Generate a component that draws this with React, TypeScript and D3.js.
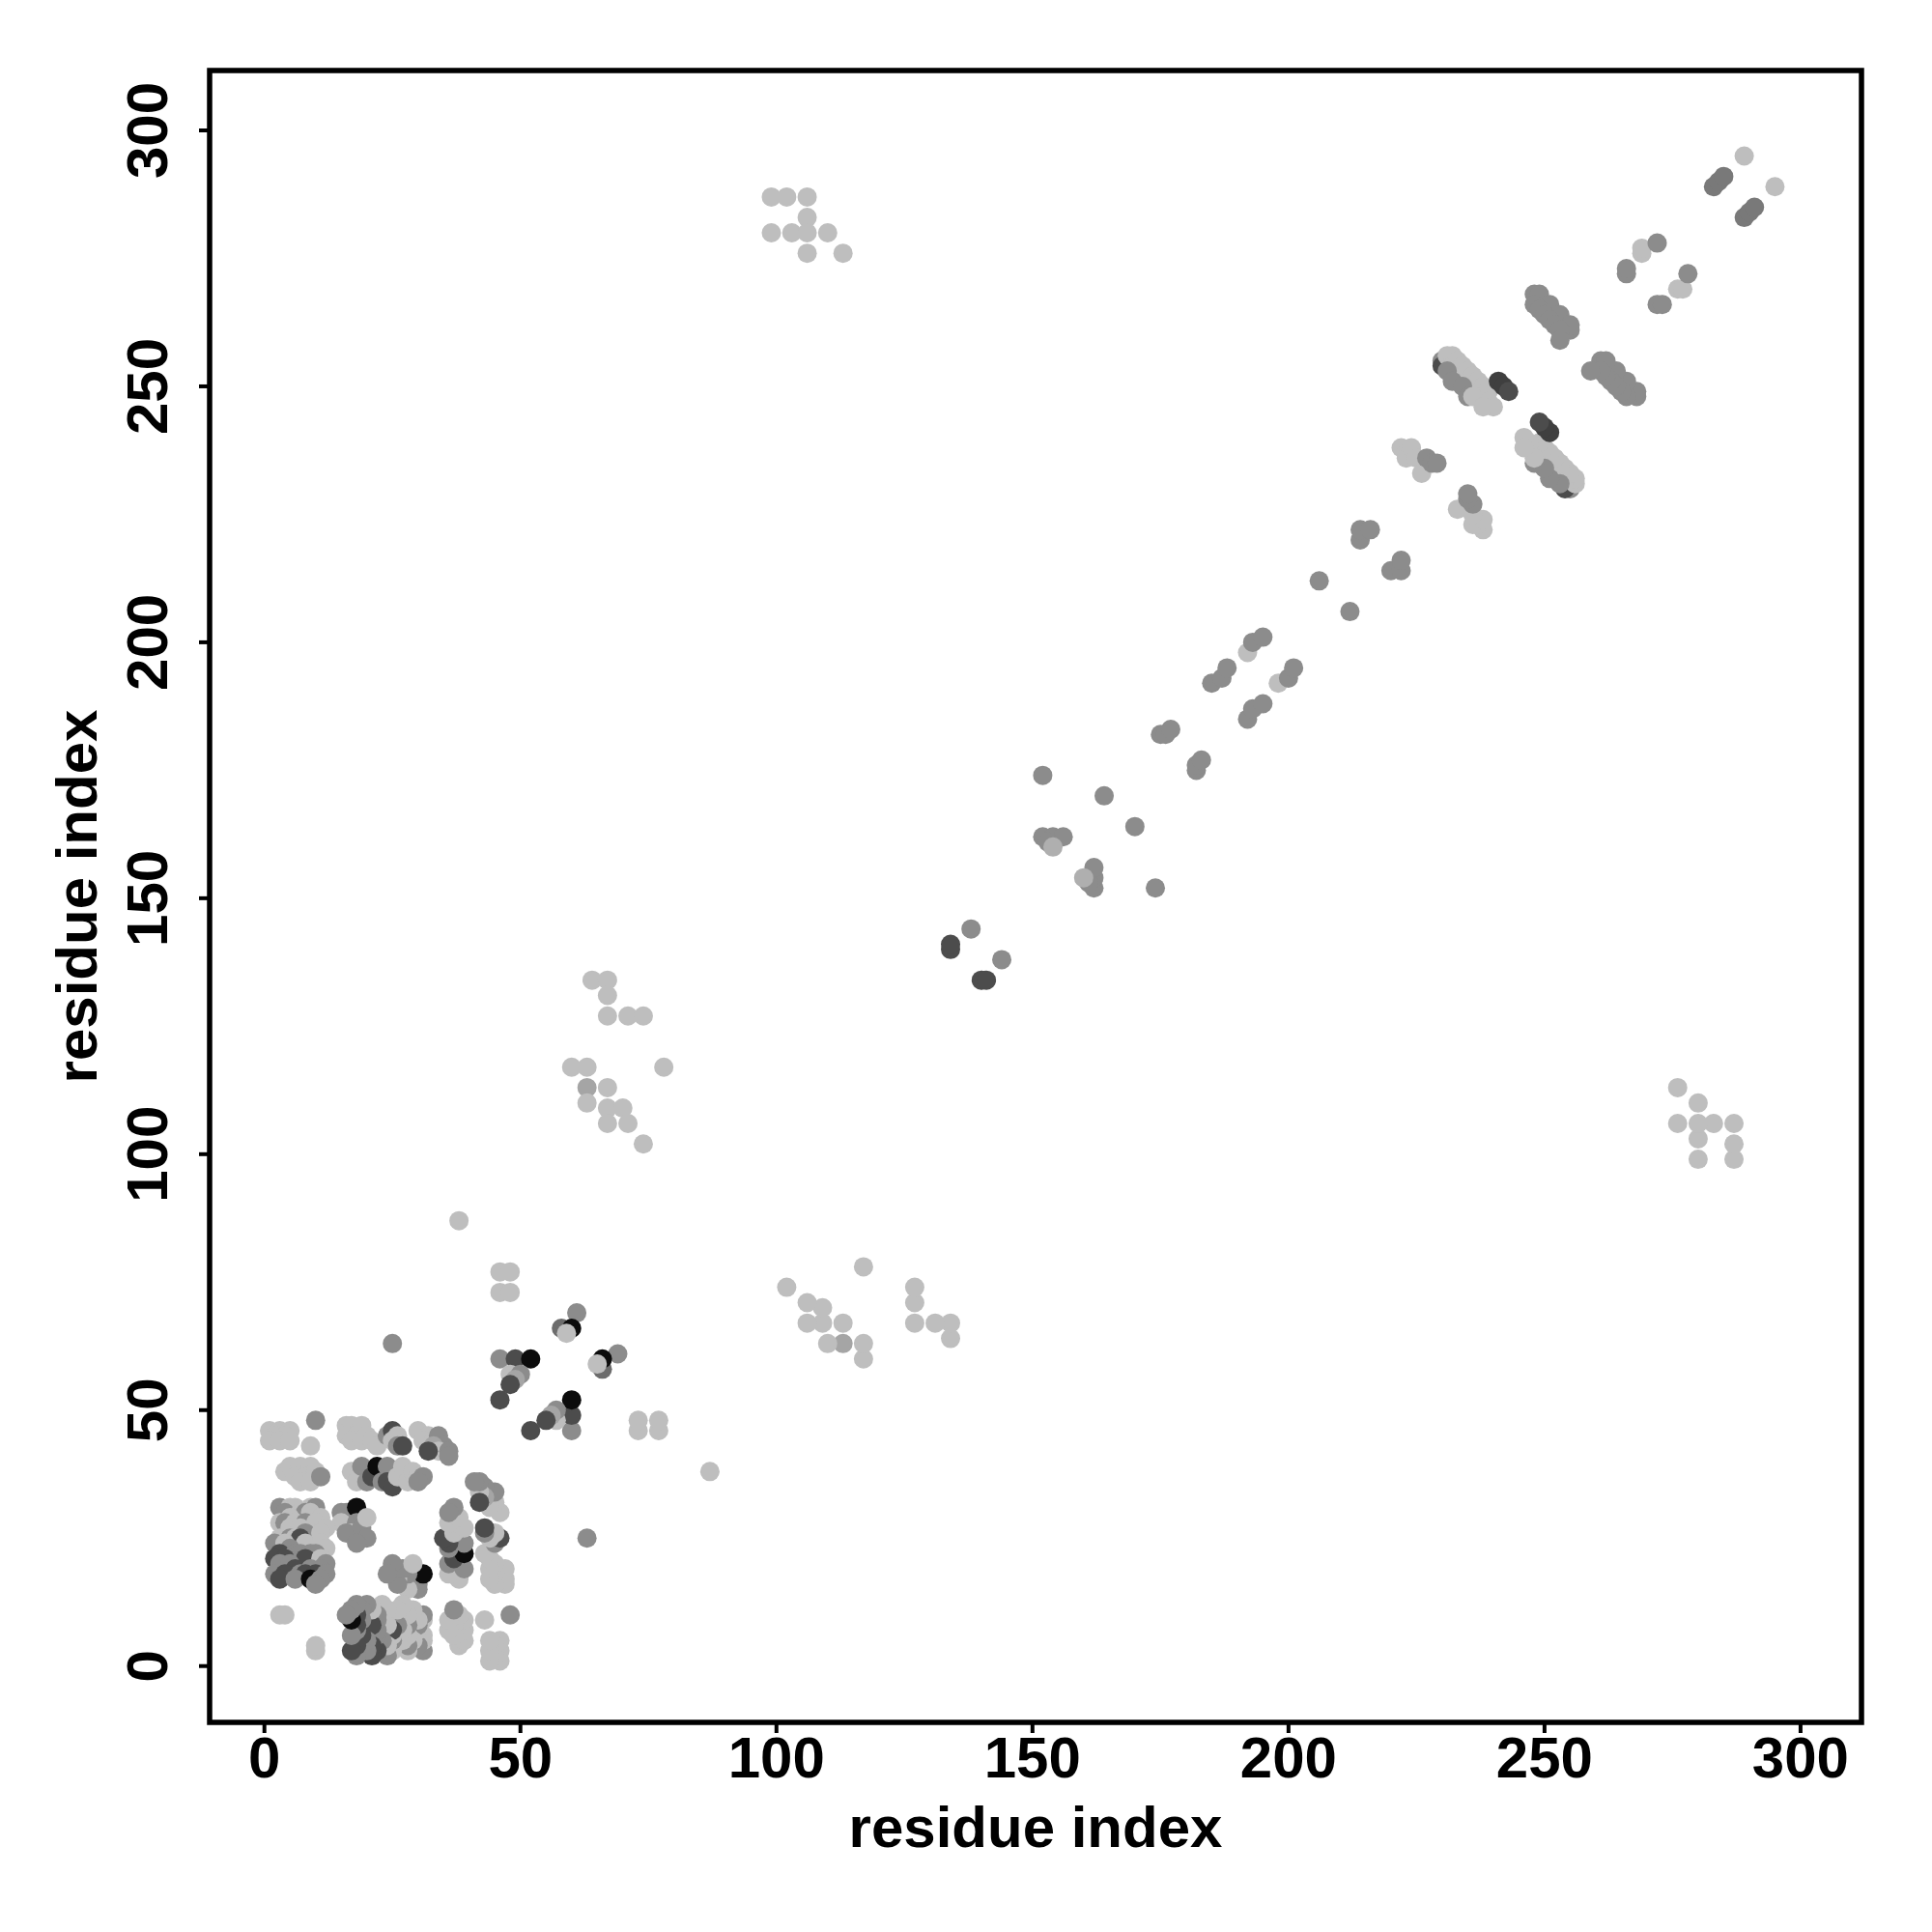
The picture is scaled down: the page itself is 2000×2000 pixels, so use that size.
import { useMemo } from 'react';
import * as d3 from 'd3';

// contact = [residue i, residue j (j > i), shade level 1 light .. 4 black]
type Contact = [number, number, number];

// N-terminal block (residues 1-50)
const nTermBlock: Contact[] = [
  [1, 46, 1], [3, 46, 1], [5, 46, 1], [2, 45, 1], [4, 45, 1], [1, 44, 1], [3, 44, 1], [5, 44, 1], [9, 43, 1],
  [10, 48, 2],
  [16, 47, 1], [17, 47, 1], [19, 47, 1], [16, 45, 1], [18, 45, 1], [20, 45, 1], [17, 44, 1], [19, 44, 1], [21, 44, 1], [22, 43, 1],
  [24, 45, 2], [25, 46, 3], [25, 44, 1], [26, 45, 1], [26, 43, 2], [27, 43, 3],
  [30, 46, 1], [32, 45, 1], [31, 44, 1], [33, 44, 1], [34, 45, 2], [35, 43, 2], [33, 43, 1.5], [34, 42, 1], [36, 42, 2], [36, 41, 2], [32, 42, 3],
  [4, 38, 1], [5, 39, 1], [7, 39, 1], [9, 39, 1], [6, 37, 1], [8, 37, 1], [10, 38, 1], [7, 36, 1], [9, 36, 1], [11, 37, 2],
  [17, 38, 1], [18, 36, 1], [19, 39, 2], [20, 36, 2], [21, 37, 3], [22, 39, 4], [23, 36, 2], [24, 39, 2], [24, 36, 3],
  [25, 35, 3], [26, 37, 1], [27, 39, 1], [28, 36, 1], [29, 38, 1], [30, 37, 1], [31, 37, 2], [30, 36, 2],
  [15, 30, 2], [16, 30, 2], [18, 31, 4], [15, 28, 1], [18, 28, 2], [17, 26, 1], [16, 26, 2], [19, 27, 2], [20, 25, 2], [20, 29, 1], [18, 24, 2],
  [3, 10, 1], [4, 10, 1],
];

// hairpin block (residues 2-12 against 16-31)
const hairpinBlock: Contact[] = [
  [3, 31, 2], [5, 31, 1], [6, 31, 1], [9, 31, 1], [10, 31, 2], [4, 30, 2], [7, 30, 1], [8, 30, 2], [9, 30, 1],
  [5, 29, 1], [11, 29, 1], [3, 28, 1], [4, 28, 2], [6, 28, 1], [8, 28, 2], [10, 28, 1], [5, 27, 1], [7, 27, 1], [12, 27, 1],
  [9, 26, 1], [8, 26, 2], [11, 26, 1], [3, 25, 1], [5, 25, 2], [6, 25, 1], [7, 25, 3], [2, 24, 2], [4, 24, 1], [8, 24, 1], [11, 24, 1],
  [5, 23, 2], [12, 23, 1], [3, 22, 3], [6, 22, 2], [7, 22, 2], [9, 22, 2], [10, 22, 2], [2, 21, 3], [4, 21, 3], [8, 21, 3], [11, 21, 1], [12, 20, 2],
  [3, 20, 2], [5, 20, 2], [6, 19, 3], [9, 19, 2], [11, 19, 2], [2, 18, 2], [4, 18, 3], [7, 18, 2], [8, 18, 3], [10, 18, 3], [12, 18, 2],
  [3, 17, 3], [6, 17, 2], [9, 17, 4], [11, 17, 2], [10, 16, 2],
];

// residues 25-90
const midBlock: Contact[] = [
  [25, 63, 2], [38, 87, 1],
  [46, 77, 1], [48, 77, 1], [46, 73, 1], [48, 73, 1],
  [61, 69, 2], [58, 66, 2.5], [60, 66, 4], [59, 65, 1],
  [46, 60, 2], [49, 60, 3], [52, 60, 4], [48, 57, 1], [50, 57, 2], [49, 56, 1.5], [48, 55, 3], [46, 52, 3],
];

// long range contacts
const longRange: Contact[] = [
  [64, 134, 1], [67, 134, 1], [67, 131, 1], [67, 127, 1], [71, 127, 1], [74, 127, 1],
  [60, 117, 1], [63, 117, 1], [78, 117, 1], [63, 113, 1.5], [67, 113, 1],
  [63, 110, 1], [67, 109, 1], [70, 109, 1], [67, 106, 1], [71, 106, 1], [74, 102, 1],
  [99, 287, 1], [102, 287, 1], [106, 287, 1], [106, 283, 1], [99, 280, 1], [103, 280, 1],
  [106, 280, 1], [110, 280, 1], [106, 276, 1], [113, 276, 1],
];

// near-diagonal contacts (residues 130-230)
const diagonalContacts: Contact[] = [
  [134, 140, 3], [134, 141, 3], [138, 144, 2],
  [152, 162, 2], [154, 162, 2], [156, 162, 2], [153, 161, 2], [154, 160, 1.3],
  [152, 174, 2], [164, 170, 2],
  [175, 182, 2], [176, 182, 2], [177, 183, 2],
  [185, 192, 2], [187, 193, 2], [188, 195, 2], [192, 198, 1], [193, 200, 2], [195, 201, 2],
  [206, 212, 2], [214, 220, 2], [214, 222, 2], [216, 222, 2],
  [222, 238, 1], [223, 237, 1], [223, 236, 1], [224, 238, 1], [225, 236, 1], [226, 233, 1],
  [227, 236, 2], [228, 235, 2], [229, 235, 2],
];

// C-terminal sheet (residues 229-295)
const cTermSheet: Contact[] = [
  [230, 255, 2], [230, 254, 3], [231, 256, 1], [232, 256, 1], [232, 254, 1], [233, 255, 1], [233, 253, 1],
  [234, 254, 1], [234, 252, 1], [235, 253, 1], [235, 251, 1], [236, 252, 1], [236, 250, 1], [237, 251, 1],
  [237, 249, 1], [238, 250, 1], [238, 248, 1], [239, 249, 1], [239, 247, 1], [240, 246, 1],
  [231, 253, 2], [232, 251, 2], [234, 250, 2], [235, 248, 2], [236, 248, 1], [238, 246, 1],
  [241, 251, 3.2], [242, 250, 3.2], [243, 249, 3],
  [248, 268, 2], [249, 267, 2], [250, 266, 2], [251, 265, 2], [252, 264, 2], [253, 263, 2], [254, 262, 2], [255, 261, 2],
  [249, 268, 2], [251, 266, 2], [253, 264, 2], [255, 262, 2],
  [248, 266, 2], [249, 265, 2], [250, 264, 2], [251, 263, 2], [252, 262, 2], [253, 261, 2], [253, 259, 2],
  [266, 272, 2], [266, 273, 2], [269, 276, 1], [269, 277, 1], [272, 278, 2],
  [283, 289, 2.3], [284, 290, 2.3], [285, 291, 2.3], [289, 295, 1],
];

const TICKS = [0, 50, 100, 150, 200, 250, 300];
const AXIS_TITLE = 'residue index';

const WIDTH = 2000;
const HEIGHT = 2000;
const BOX = { left: 217, right: 1927, top: 73, bottom: 1783 };
const FONT = '"Liberation Sans", Arial, Helvetica, sans-serif';

export default function App() {
  const x = d3.scaleLinear().domain([-10.7, 311.9]).range([BOX.left, BOX.right]);
  const y = d3.scaleLinear().domain([-11, 311.7]).range([BOX.bottom, BOX.top]);
  const shade = d3
    .scaleLinear<string>()
    .domain([1, 2, 3, 4])
    .range(['#bebebe', '#8c8c8c', '#4c4c4c', '#0c0c0c']);

  // the map is symmetric: draw every contact on both sides of the diagonal
  const points = useMemo(() => {
    const upper = [...nTermBlock, ...hairpinBlock, ...midBlock, ...longRange, ...diagonalContacts, ...cTermSheet];
    return upper.flatMap(([i, j, l]) => [
      [i, j, l],
      [j, i, l],
    ]);
  }, []);

  return (
    <svg
      width={WIDTH}
      height={HEIGHT}
      style={{ position: 'absolute', left: 0, top: 0, background: '#fff' }}
      fontFamily={FONT}
      fontWeight="bold"
    >
      <rect width={WIDTH} height={HEIGHT} fill="#fff" />

      <g>
        {points.map(([i, j, l], k) => (
          <circle key={k} cx={x(i)} cy={y(j)} r={10} fill={shade(l)} />
        ))}
      </g>

      <rect
        x={BOX.left}
        y={BOX.top}
        width={BOX.right - BOX.left}
        height={BOX.bottom - BOX.top}
        fill="none"
        stroke="#000"
        strokeWidth={5.5}
      />

      {/* x axis */}
      {TICKS.map((t) => (
        <g key={`x${t}`}>
          <line x1={x(t)} x2={x(t)} y1={BOX.bottom} y2={BOX.bottom + 11} stroke="#000" strokeWidth={4} />
          <text x={x(t)} y={1840} textAnchor="middle" fontSize={60}>
            {t}
          </text>
        </g>
      ))}

      {/* y axis */}
      {TICKS.map((t) => (
        <g key={`y${t}`}>
          <line x1={BOX.left - 11} x2={BOX.left} y1={y(t)} y2={y(t)} stroke="#000" strokeWidth={4} />
          <text transform={`translate(173,${y(t)}) rotate(-90)`} textAnchor="middle" fontSize={60}>
            {t}
          </text>
        </g>
      ))}

      <text x={(BOX.left + BOX.right) / 2} y={1912} textAnchor="middle" fontSize={60}>
        {AXIS_TITLE}
      </text>
      <text
        transform={`translate(100,${(BOX.top + BOX.bottom) / 2}) rotate(-90)`}
        textAnchor="middle"
        fontSize={60}
      >
        {AXIS_TITLE}
      </text>
    </svg>
  );
}
